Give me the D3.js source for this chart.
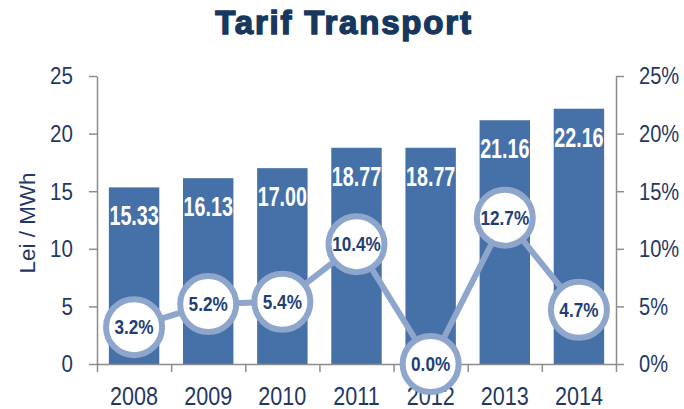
<!DOCTYPE html>
<html>
<head>
<meta charset="utf-8">
<script src="https://cdn.jsdelivr.net/npm/d3@7"></script>
<style>
  body { margin: 0; background: #fff; }
  svg { display: block; }
  text { font-family: "Liberation Sans", Arial, sans-serif; }
</style>
</head>
<body>
<svg width="684" height="409"></svg>
<script>
var years = ["2008", "2009", "2010", "2011", "2012", "2013", "2014"];
var tariff = [15.33, 16.13, 17.00, 18.77, 18.77, 21.16, 22.16];
var growth = [3.2, 5.2, 5.4, 10.4, 0.0, 12.7, 4.7];
var leftTicks = [0, 5, 10, 15, 20, 25];
var rightTicks = [0, 5, 10, 15, 20, 25];

var svg = d3.select("svg"),
  plotLeft = 97, plotRight = 616, plotTop = 76, plotBottom = 364;

var navy = "#1F3864",
  barColor = "#4571A8",
  ringColor = "#8EA5CC",
  axisColor = "#8c8c8c";

var x = d3.scaleBand().domain(years).range([plotLeft, plotRight])
  .paddingInner(0.32).paddingOuter(0.16);
var y = d3.scaleLinear().domain([0, 25]).range([plotBottom, plotTop]);
var y2 = d3.scaleLinear().domain([0, 25]).range([plotBottom, plotTop]);
var xEdges = d3.scaleLinear().domain([0, years.length]).range([plotLeft, plotRight]);

function cx(i) { return x(years[i]) + x.bandwidth() / 2; }

// title
svg.append("text")
  .attr("x", 344).attr("y", 34)
  .attr("text-anchor", "middle")
  .style("font-weight", "bold")
  .style("font-size", "33px")
  .style("letter-spacing", "1.8px")
  .attr("fill", "#17375E")
  .attr("stroke", "#17375E")
  .attr("stroke-width", 1.4)
  .text("Tarif Transport");

// bars
svg.selectAll(".bar")
  .data(tariff)
  .enter()
  .append("rect")
  .attr("class", "bar")
  .attr("x", function(d, i) { return x(years[i]); })
  .attr("y", function(d) { return y(d); })
  .attr("width", x.bandwidth())
  .attr("height", function(d) { return plotBottom - y(d); })
  .attr("fill", barColor);

// condensed look: squeeze text horizontally
svg.selectAll(".barlabel")
  .data(tariff)
  .enter()
  .append("text")
  .attr("class", "barlabel")
  .attr("transform", function(d, i) {
    return "translate(" + cx(i) + "," + (y(d) + 38) + ") scale(0.73,1)";
  })
  .attr("text-anchor", "middle")
  .attr("fill", "#fff")
  .style("font-weight", "bold")
  .style("font-size", "27px")
  .text(function(d) { return d.toFixed(2); });

// left axis
var gl = svg.append("g")
  .attr("transform", "translate(" + plotLeft + ",0)")
  .call(d3.axisLeft(y).tickValues(leftTicks).tickSize(8).tickSizeOuter(0).tickPadding(16));

// right axis
var gr = svg.append("g")
  .attr("transform", "translate(" + plotRight + ",0)")
  .call(d3.axisRight(y2).tickValues(rightTicks).tickSize(8).tickSizeOuter(0).tickPadding(15)
    .tickFormat(function(d) { return d + "%"; }));

// x axis, ticks between categories
var gx = svg.append("g")
  .attr("transform", "translate(0," + plotBottom + ")")
  .call(d3.axisBottom(xEdges).ticks(years.length).tickSize(8).tickSizeOuter(0).tickFormat(""));

[gl, gr, gx].forEach(function(g) {
  g.selectAll("path, line").attr("stroke", axisColor).attr("stroke-width", 1.5);
});

gl.selectAll("text")
  .attr("x", null)
  .attr("transform", "translate(-24,0) scale(0.84,1)")
  .attr("fill", navy)
  .style("font-family", "'Liberation Sans', Arial, sans-serif")
  .style("font-size", "24.5px");

gr.selectAll("text")
  .attr("x", null)
  .attr("transform", "translate(23,0) scale(0.82,1)")
  .attr("fill", navy)
  .style("font-family", "'Liberation Sans', Arial, sans-serif")
  .style("font-size", "24.5px");

svg.selectAll(".xlabel")
  .data(years)
  .enter()
  .append("text")
  .attr("class", "xlabel")
  .attr("transform", function(d, i) { return "translate(" + cx(i) + ",405) scale(0.83,1)"; })
  .attr("text-anchor", "middle")
  .attr("fill", navy)
  .style("font-size", "26px")
  .text(function(d) { return d; });

// y axis title
svg.append("text")
  .attr("transform", "translate(35,223) rotate(-90) scale(1.02,1)")
  .attr("text-anchor", "middle")
  .attr("fill", navy)
  .style("font-size", "22px")
  .text("Lei / MWh");

// growth line
var line = d3.line()
  .x(function(d, i) { return cx(i); })
  .y(function(d) { return y2(d); });

svg.append("path")
  .datum(growth)
  .attr("d", line)
  .attr("fill", "none")
  .attr("stroke", ringColor)
  .attr("stroke-width", 6);

var dots = svg.selectAll(".dot")
  .data(growth)
  .enter()
  .append("g")
  .attr("transform", function(d, i) { return "translate(" + cx(i) + "," + y2(d) + ")"; });

dots.append("circle")
  .attr("r", 28)
  .attr("fill", "#fff")
  .attr("stroke", ringColor)
  .attr("stroke-width", 6);

dots.append("text")
  .attr("transform", "translate(0,7) scale(0.86,1)")
  .attr("text-anchor", "middle")
  .attr("fill", "#1F3F77")
  .style("font-weight", "bold")
  .style("font-size", "20px")
  .text(function(d) { return d.toFixed(1) + "%"; });
</script>
</body>
</html>
